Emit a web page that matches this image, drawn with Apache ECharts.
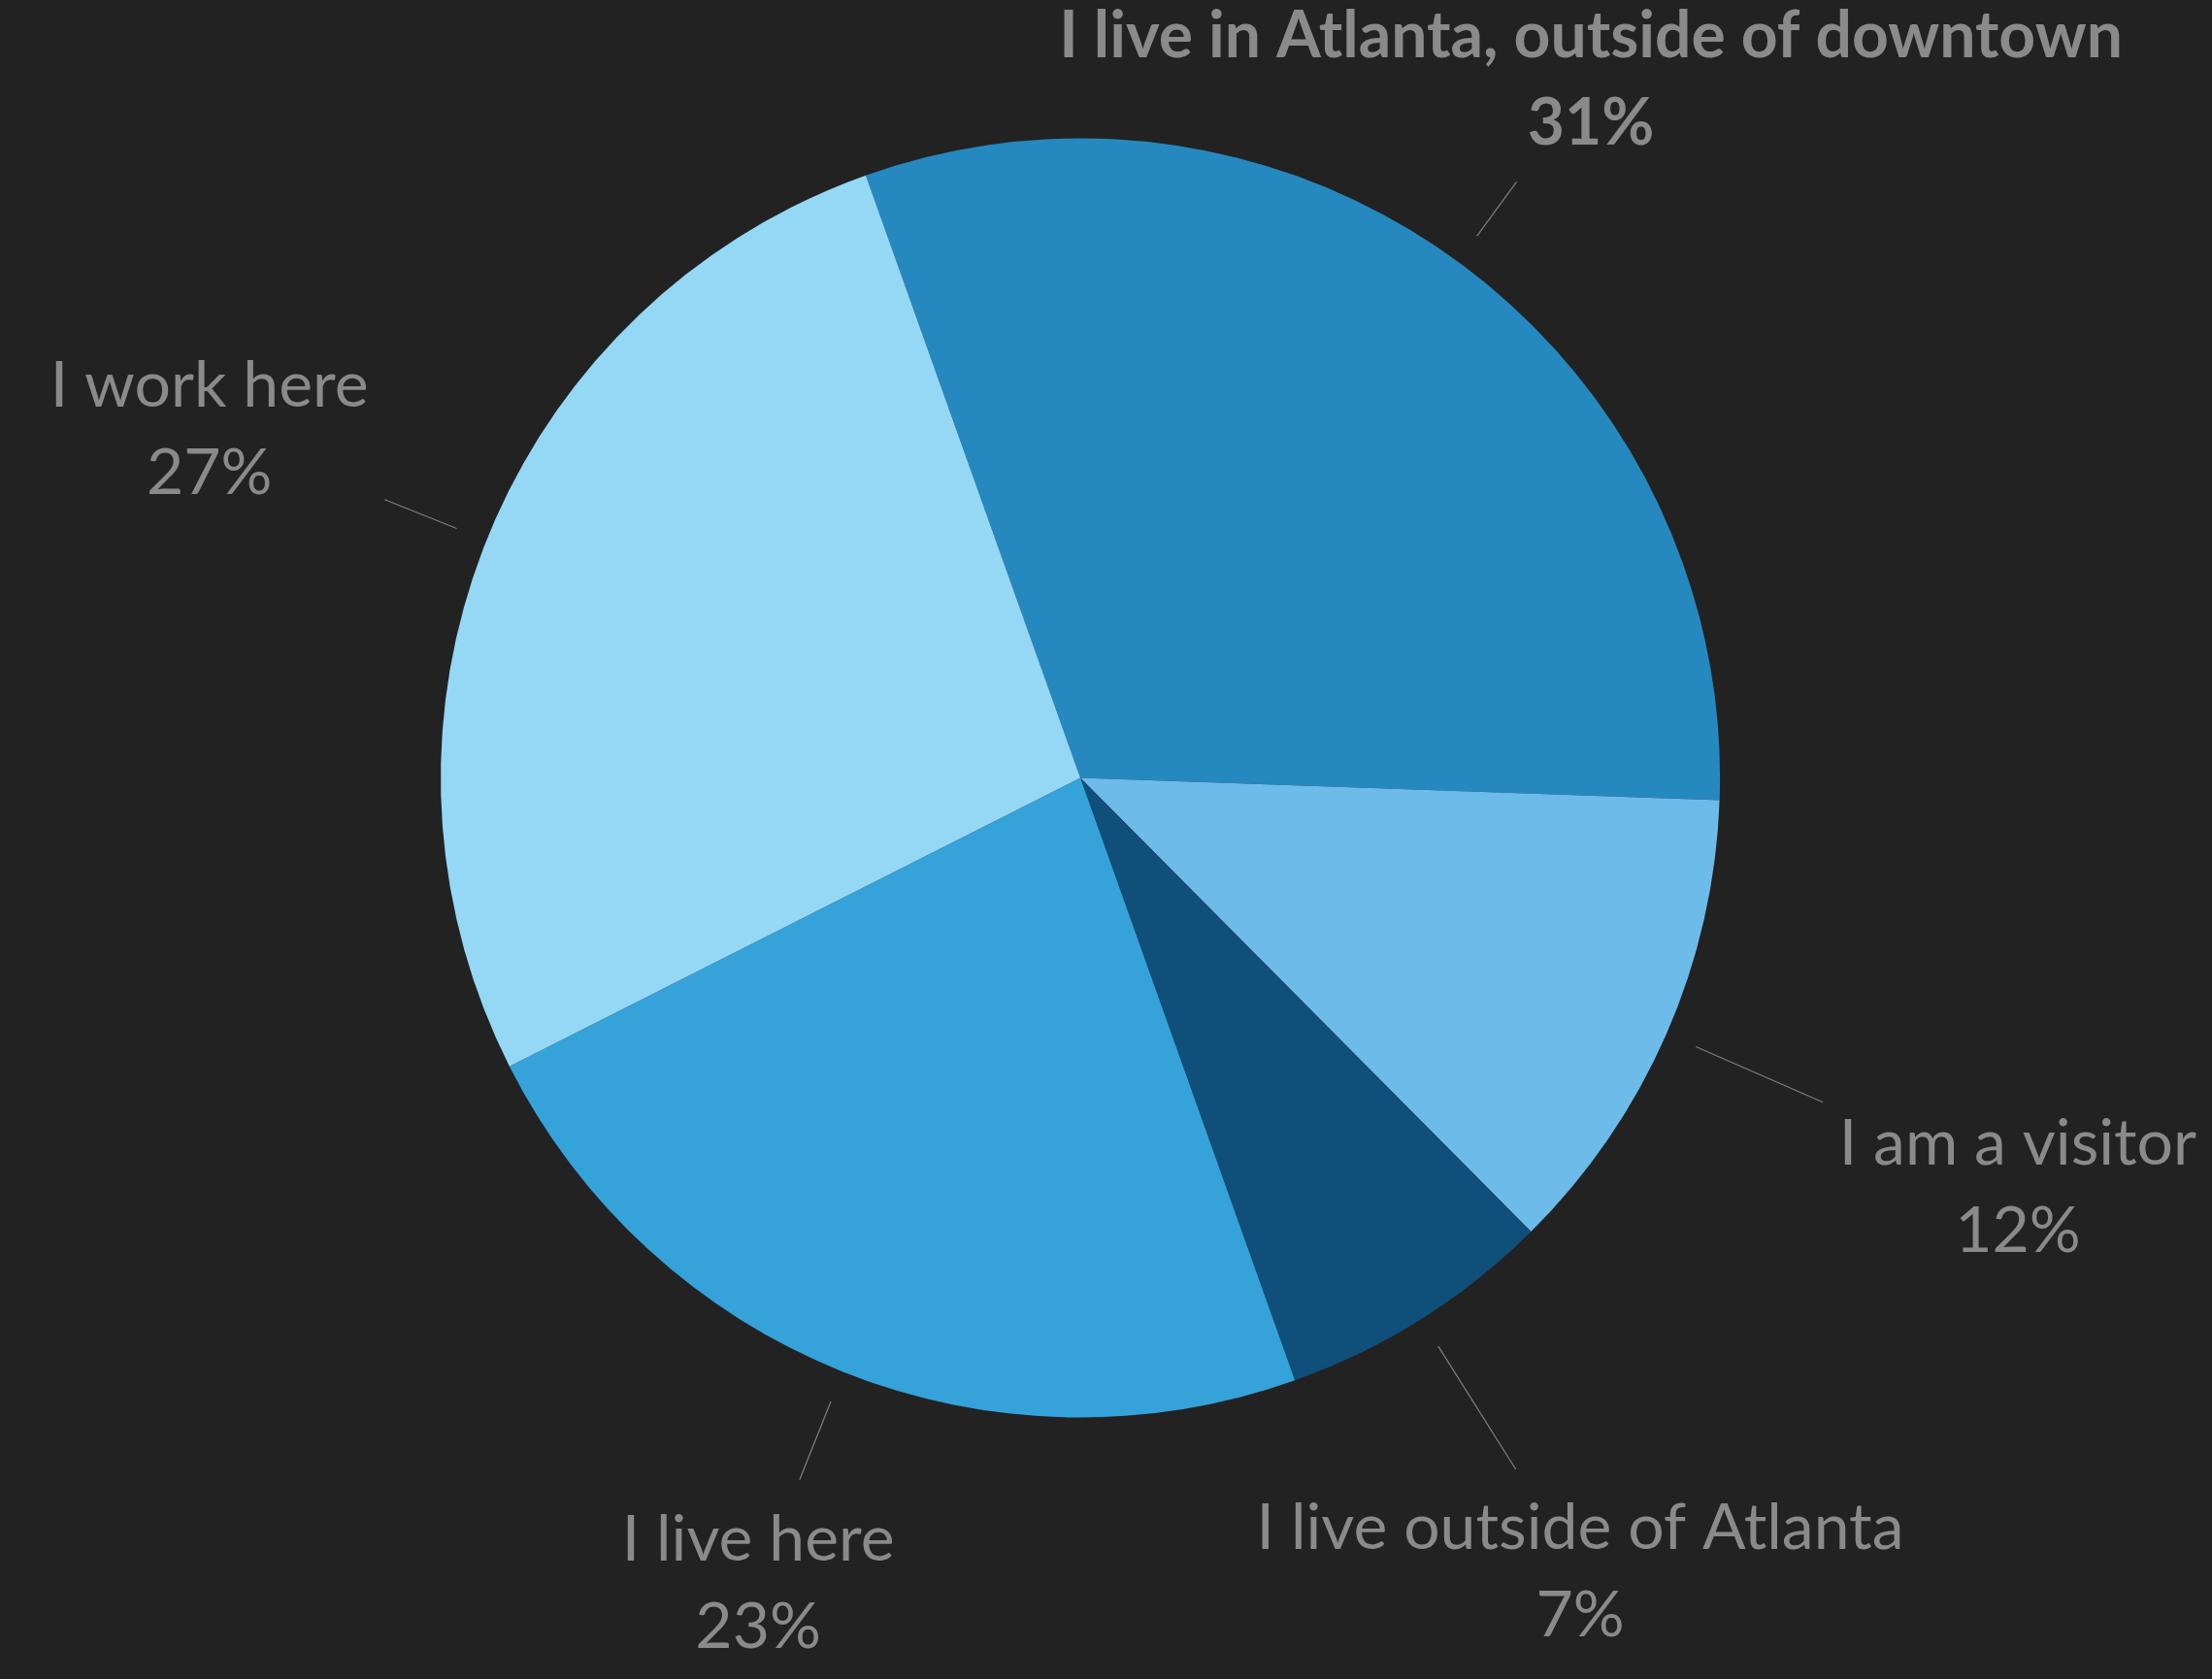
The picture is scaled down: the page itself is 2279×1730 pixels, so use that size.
<!DOCTYPE html>
<html>
<head>
<meta charset="utf-8">
<script src="https://cdn.jsdelivr.net/npm/echarts@6/dist/echarts.min.js"></script>
<style>
  html, body { margin: 0; padding: 0; background: #222222; }
  #chart { width: 2279px; height: 1730px; }
</style>
</head>
<body>
<div id="chart"></div>
<script>
// ---- data ----
const categories = [
  'I live in Atlanta, outside of downtown',
  'I am a visitor',
  'I live outside of Atlanta',
  'I live here',
  'I work here'
];
const percents = [31, 12, 7, 23, 27];
const sliceColors = ['#2588BF', '#6CBBE9', '#104F7A', '#35A3DA', '#95D8F5'];
const highlighted = [true, false, false, false, false];
const labelLineLengths = [69, 143, 150, 87, 80];

// ---- chart ----
const chart = echarts.init(document.getElementById('chart'), null, { renderer: 'canvas' });
const CENTER = ['48.84%', '46.33%'];
const PIE_R = 659;
const LABEL_R = 692;
const GAP = 18;
const TEXT_COLOR = '#8a8a8a';

const sliceData = categories.map((name, i) => ({
  name: name,
  value: percents[i],
  itemStyle: { color: sliceColors[i] }
}));

const labelData = categories.map((name, i) => ({
  name: name,
  value: percents[i],
  label: { fontWeight: highlighted[i] ? 'bold' : 'normal' },
  labelLine: { length: labelLineLengths[i], length2: 0 }
}));

chart.setOption({
  backgroundColor: '#222222',
  animation: false,
  series: [
    {
      type: 'pie',
      center: CENTER,
      radius: [0, PIE_R],
      startAngle: 109.6,
      clockwise: true,
      silent: true,
      label: { show: false },
      labelLine: { show: false },
      data: sliceData
    },
    {
      type: 'pie',
      center: CENTER,
      radius: [0, LABEL_R],
      startAngle: 109.6,
      clockwise: true,
      silent: true,
      avoidLabelOverlap: false,
      itemStyle: { color: 'rgba(0,0,0,0)' },
      label: {
        show: true,
        position: 'outside',
        alignTo: 'none',
        overflow: 'none',
        formatter: '{b}\n{c}%',
        color: TEXT_COLOR,
        fontFamily: 'Lato, "Noto Sans", sans-serif',
        fontSize: 66,
        lineHeight: 90
      },
      labelLine: {
        show: true,
        smooth: false,
        lineStyle: { color: '#7f7f7f', width: 1.2 }
      },
      labelLayout: function (p) {
        const pts = p.labelLinePoints;
        if (!pts || pts.length < 2) return {};
        const a = pts[0], b = pts[pts.length - 1];
        let dx = b[0] - a[0], dy = b[1] - a[1];
        const len = Math.hypot(dx, dy) || 1;
        dx /= len; dy /= len;
        const w = p.labelRect.width, h = p.labelRect.height;
        const t = Math.min(
          (w / 2) / Math.max(Math.abs(dx), 1e-6),
          (h / 2) / Math.max(Math.abs(dy), 1e-6)
        ) + GAP;
        return {
          x: b[0] + dx * t,
          y: b[1] + dy * t,
          align: 'center',
          verticalAlign: 'middle',
          labelLinePoints: pts
        };
      },
      data: labelData
    }
  ]
});
</script>
</body>
</html>
